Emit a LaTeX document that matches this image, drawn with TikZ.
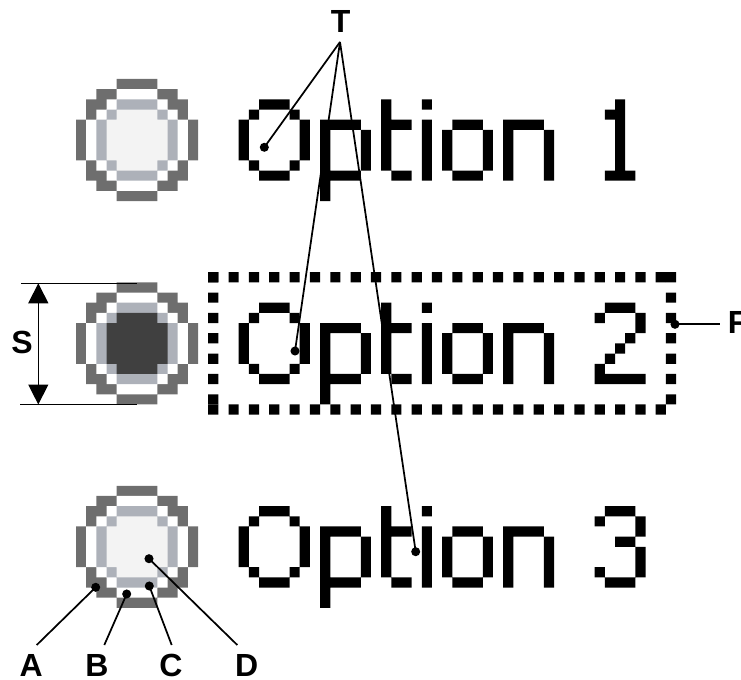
\documentclass[tikz,border=0pt]{standalone}
\usepackage{fontspec}
\setmainfont{Liberation Sans}
\usetikzlibrary{arrows.meta}
\definecolor{rdark}{HTML}{6E6E6E}
\definecolor{rgray}{HTML}{ADB1B9}
\definecolor{rlight}{HTML}{F3F3F3}
\definecolor{rsel}{HTML}{404040}
\newcommand\RadioBtn[2]{%
 \fill[rdark,shift={(0,#1)}] (4,0) rectangle ++(4,12) (2,1) rectangle ++(8,10) (1,2) rectangle ++(10,8) (0,4) rectangle ++(12,4);
 \fill[white,shift={(0,#1)}] (4,1) rectangle ++(4,10) (3,2) rectangle ++(6,8) (2,3) rectangle ++(8,6) (1,4) rectangle ++(10,4);
 \fill[rgray,shift={(0,#1)}] (4,2) rectangle ++(4,8) (3,3) rectangle ++(6,6) (2,4) rectangle ++(8,4);
 \fill[#2,shift={(0,#1)}] (4,3) rectangle ++(4,6) (3,4) rectangle ++(6,4);
}
\newcommand\GlyO[2]{\fill[shift={(#1,#2)}] (2,0) rectangle ++(3,1) (1,1) rectangle ++(1,1) (5,1) rectangle ++(1,1) (0,2) rectangle ++(1,4) (6,2) rectangle ++(1,4) (1,6) rectangle ++(1,1) (5,6) rectangle ++(1,1) (2,7) rectangle ++(3,1);}
\newcommand\Glyp[2]{\fill[shift={(#1,#2)}] (0,2) rectangle ++(1,8) (1,2) rectangle ++(3,1) (4,3) rectangle ++(1,4) (1,7) rectangle ++(3,1);}
\newcommand\Glyt[2]{\fill[shift={(#1,#2)}] (0,0) rectangle ++(1,7) (1,2) rectangle ++(2,1) (1,7) rectangle ++(2,1);}
\newcommand\Glyi[2]{\fill[shift={(#1,#2)}] (0,0) rectangle ++(1,1) (0,2) rectangle ++(1,6);}
\newcommand\Glyo[2]{\fill[shift={(#1,#2)}] (1,2) rectangle ++(3,1) (0,3) rectangle ++(1,4) (4,3) rectangle ++(1,4) (1,7) rectangle ++(3,1);}
\newcommand\Glyn[2]{\fill[shift={(#1,#2)}] (0,2) rectangle ++(4,1) (0,3) rectangle ++(1,5) (4,3) rectangle ++(1,5);}
\newcommand\GlyOne[2]{\fill[shift={(#1,#2)}] (2,0) rectangle ++(1,7) (1,1) rectangle ++(1,1) (1,7) rectangle ++(3,1);}
\newcommand\GlyTwo[2]{\fill[shift={(#1,#2)}] (1,0) rectangle ++(3,1) (0,1) rectangle ++(1,1) (4,1) rectangle ++(1,2) (3,3) rectangle ++(1,1) (2,4) rectangle ++(1,1) (1,5) rectangle ++(1,1) (0,6) rectangle ++(1,2) (1,7) rectangle ++(4,1);}
\newcommand\GlyThree[2]{\fill[shift={(#1,#2)}] (1,0) rectangle ++(3,1) (0,1) rectangle ++(1,1) (4,1) rectangle ++(1,2) (2,3) rectangle ++(2,1) (4,4) rectangle ++(1,3) (0,6) rectangle ++(1,1) (1,7) rectangle ++(3,1);}
\newcommand\OptWord[1]{\GlyO{16}{#1}\Glyp{24}{#1}\Glyt{30}{#1}\Glyi{34}{#1}\Glyo{36}{#1}\Glyn{42}{#1}}
\tikzset{
 dotnode/.style={circle,fill=black,inner sep=0pt,minimum size=6.8pt},
 lbl/.style={font=\bfseries\fontsize{24}{24}\selectfont,inner sep=0pt},
 conn/.style={line width=1.3pt},
 dimline/.style={line width=1pt}
}
\begin{document}
\begin{tikzpicture}[x=0.75pt,y=-0.75pt]
\useasboundingbox (0,0) rectangle (741,680);
\begin{scope}[shift={(76,79)},x=7.6275pt,y=-7.6275pt]
 \RadioBtn{0}{rlight}
 \RadioBtn{20}{rsel}
 \RadioBtn{40}{rlight}
 \OptWord{2}\GlyOne{51}{2}
 \OptWord{22}\GlyTwo{51}{22}
 \OptWord{42}\GlyThree{51}{42}
 \foreach \c in {13,15,...,57} {\fill (\c,19) rectangle ++(1,1) (\c,32) rectangle ++(1,1);}
 \foreach \r in {19,21,...,31} {\fill (13,\r) rectangle ++(1,1) (58,\r) rectangle ++(1,1);}
\end{scope}
% labels
\node[lbl] (T) at (340.7,21.5) {T};
\node[lbl] (S) at (22,342.5) {S};
\node[lbl,anchor=west] (F) at (727.5,322.5) {F};
\node[lbl] (A) at (31.2,665) {A};
\node[lbl] (B) at (97,665) {B};
\node[lbl] (C) at (171,665) {C};
\node[lbl] (D) at (246.7,665) {D};
% T connectors
\coordinate (Tp) at (340,42);
\node[dotnode] (t1) at (264.3,147.3) {};
\node[dotnode] (t2) at (295,351) {};
\node[dotnode] (t3) at (415.7,551.7) {};
\draw[conn] (Tp) -- (t1.center);
\draw[conn] (Tp) -- (t2.center);
\draw[conn] (Tp) -- (t3.center);
% F connector
\node[dotnode] (fd) at (675,324.3) {};
\coordinate (Fe) at (720,324.3);
\draw[conn] (fd.center) -- (Fe);
% S dimension
\coordinate (S1a) at (21,283.3);
\coordinate (S1b) at (137,283.3);
\coordinate (S2a) at (20,404.5);
\coordinate (S2b) at (137,404.5);
\coordinate (Sat) at (38.3,283.3);
\coordinate (Sab) at (38.3,404.5);
\draw[dimline] (S1a) -- (S1b);
\draw[dimline] (S2a) -- (S2b);
\draw[dimline,{Triangle[width=15pt,length=15pt]}-{Triangle[width=15pt,length=15pt]}] (Sat) -- (Sab);
% A-D connectors
\node[dotnode] (da) at (95.7,587.3) {};
\node[dotnode] (db) at (126.7,594) {};
\node[dotnode] (dc) at (149.3,586) {};
\node[dotnode] (dd) at (149,558.7) {};
\coordinate (ea) at (36.7,645);
\coordinate (eb) at (104.3,645);
\coordinate (ec) at (171.7,645);
\coordinate (ed) at (237.3,645);
\draw[conn] (da.center) -- (ea);
\draw[conn] (db.center) -- (eb);
\draw[conn] (dc.center) -- (ec);
\draw[conn] (dd.center) -- (ed);
\end{tikzpicture}
\end{document}
